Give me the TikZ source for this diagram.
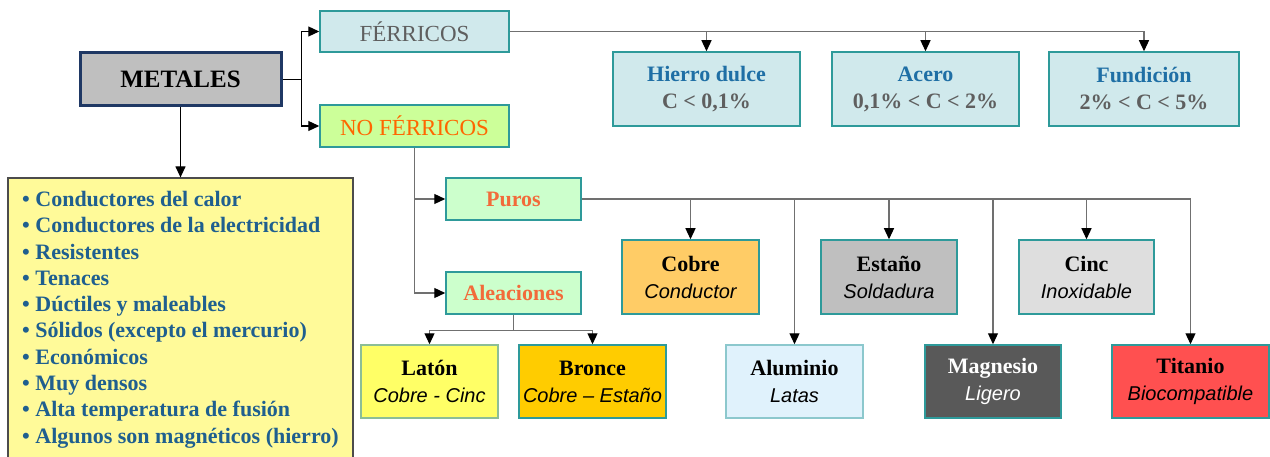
\documentclass[tikz,border=0pt]{standalone}
\usepackage{fontspec}
\setmainfont{Liberation Serif}
\newfontfamily\sansit{Liberation Sans}
\usetikzlibrary{arrows.meta}
\definecolor{tealb}{HTML}{2E9A9A}
\definecolor{cyanf}{HTML}{D0E9EC}
\definecolor{titleblue}{HTML}{1F6FA5}
\definecolor{listblue}{HTML}{1F5F8F}
\definecolor{greyt}{HTML}{5F5F5F}
\definecolor{orangeT}{HTML}{FF6600}
\definecolor{orangeP}{HTML}{F26B3A}
\definecolor{greenf}{HTML}{CCFFCC}
\definecolor{limef}{HTML}{CCFF99}
\definecolor{linec}{HTML}{707070}
\definecolor{metb}{HTML}{1F3864}
\begin{document}
\begin{tikzpicture}[x=1pt,y=-1pt,
  box/.style={draw=tealb, line width=1.5pt, inner sep=0pt, align=center, font=\fontsize{22}{27}\selectfont},
  conn/.style={draw=linec, line width=1.2pt},
  arr/.style={conn, -{Triangle[width=10pt,length=11pt,color=black]}}]
\useasboundingbox (0,0) rectangle (1270,457);
% top level
\node[draw=metb, line width=3pt, fill=black!25, minimum width=201, minimum height=53, inner sep=0pt,
  font=\fontsize{25}{27}\selectfont\bfseries] (metales) at (180.5,79.5) {METALES};
\node[box, fill=cyanf, minimum width=189, minimum height=41, text=greyt, font=\fontsize{23}{27}\selectfont] (ferr) at (414.5,31.5) {FÉRRICOS};
\node[box, fill=limef, minimum width=189, minimum height=42, text=orangeT, font=\fontsize{23}{27}\selectfont] (noferr) at (414.5,126) {NO FÉRRICOS};
% ferrous
\node[box, fill=cyanf, minimum width=187, minimum height=74] (hierro) at (706.5,89)
  {{\bfseries\color{titleblue}Hierro dulce}\\{\bfseries\color{greyt}C < 0,1\%}};
\node[box, fill=cyanf, minimum width=187, minimum height=74] (acero) at (925.5,89)
  {{\bfseries\color{titleblue}Acero}\\{\bfseries\color{greyt}0,1\% < C < 2\%}};
\node[box, fill=cyanf, minimum width=190, minimum height=74] (fund) at (1144,89)
  {{\bfseries\color{titleblue}Fundición}\\{\bfseries\color{greyt}2\% < C < 5\%}};
% list
\node[draw=black!70, line width=1.2pt, fill=yellow!40!white, minimum width=345, minimum height=282, inner sep=0pt] (list) at (180.5,319) {};
\node[anchor=north west, inner sep=0pt, align=left, text=listblue,
  font=\fontsize{22}{26.3}\selectfont\bfseries] (listtext) at (22,191)
  {• Conductores del calor\\
   • Conductores de la electricidad\\
   • Resistentes\\
   • Tenaces\\
   • Dúctiles y maleables\\
   • Sólidos (excepto el mercurio)\\
   • Económicos\\
   • Muy densos\\
   • Alta temperatura de fusión\\
   • Algunos son magnéticos (hierro)};
% non-ferrous
\node[box, fill=greenf, minimum width=135, minimum height=42, text=orangeP, font=\fontsize{22}{27}\selectfont\bfseries] (puros) at (513.5,199) {Puros};
\node[box, fill=greenf, minimum width=135, minimum height=42, text=orangeP, font=\fontsize{22}{27}\selectfont\bfseries] (aleac) at (513.5,293) {Aleaciones};
\node[box, fill={rgb,255:red,255;green,204;blue,102}, minimum width=137, minimum height=74] (cobre) at (690.5,277)
  {{\bfseries Cobre}\\{\sansit\itshape\fontsize{20}{27}\selectfont Conductor}};
\node[box, fill=black!25, minimum width=136, minimum height=74] (estano) at (889,277)
  {{\bfseries Estaño}\\{\sansit\itshape\fontsize{20}{27}\selectfont Soldadura}};
\node[box, fill=black!13, minimum width=135, minimum height=74] (cinc) at (1086.5,277)
  {{\bfseries Cinc}\\{\sansit\itshape\fontsize{20}{27}\selectfont Inoxidable}};
\node[box, fill={rgb,255:red,255;green,255;blue,102}, draw={rgb,255:red,140;green,190;blue,150}, minimum width=137, minimum height=73] (laton) at (429.5,381.5)
  {{\bfseries Latón}\\{\sansit\itshape\fontsize{20}{27}\selectfont Cobre - Cinc}};
\node[box, fill={rgb,255:red,255;green,204;blue,0}, minimum width=147, minimum height=73] (bronce) at (592.5,381.5)
  {{\bfseries Bronce}\\{\sansit\itshape\fontsize{20}{27}\selectfont Cobre – Estaño}};
\node[box, fill={rgb,255:red,224;green,242;blue,252}, draw={rgb,255:red,140;green,200;blue,205}, minimum width=137, minimum height=73] (alum) at (794.5,381.5)
  {{\bfseries Aluminio}\\{\sansit\itshape\fontsize{20}{27}\selectfont Latas}};
\node[box, fill={rgb,255:red,89;green,89;blue,89}, text=white, minimum width=136, minimum height=73] (magn) at (993,381.5)
  {{\bfseries Magnesio}\\{\sansit\itshape\fontsize{20}{27}\selectfont Ligero}};
\node[box, fill={rgb,255:red,255;green,80;blue,80}, minimum width=157, minimum height=73] (titan) at (1190.5,381.5)
  {{\bfseries Titanio}\\{\sansit\itshape\fontsize{20}{27}\selectfont Biocompatible}};
% connectors
\draw[conn, draw=black] (metales.east) -- ++(19,0) coordinate (j);
\draw[arr, draw=black] (j) |- (ferr.west);
\draw[arr, draw=black] (j) |- (noferr.west);
\draw[arr, draw=black] (metales.south) -- (list.north);
\draw[arr] (ferr.east) -| (fund.north);
\draw[arr] (hierro.north |- ferr.east) -- (hierro.north);
\draw[arr] (acero.north |- ferr.east) -- (acero.north);
\draw[arr] (noferr.south) |- (puros.west);
\draw[arr] (noferr.south) |- (aleac.west);
\draw[conn] (aleac.south) -- ++(0,16) coordinate (k);
\draw[arr] (k) -| (laton.north);
\draw[arr] (k) -| (bronce.north);
\draw[arr] (puros.east) -| (titan.north);
\draw[arr] (cobre.north |- puros.east) -- (cobre.north);
\draw[arr] (alum.north |- puros.east) -- (alum.north);
\draw[arr] (estano.north |- puros.east) -- (estano.north);
\draw[arr] (magn.north |- puros.east) -- (magn.north);
\draw[arr] (cinc.north |- puros.east) -- (cinc.north);
\end{tikzpicture}
\end{document}
